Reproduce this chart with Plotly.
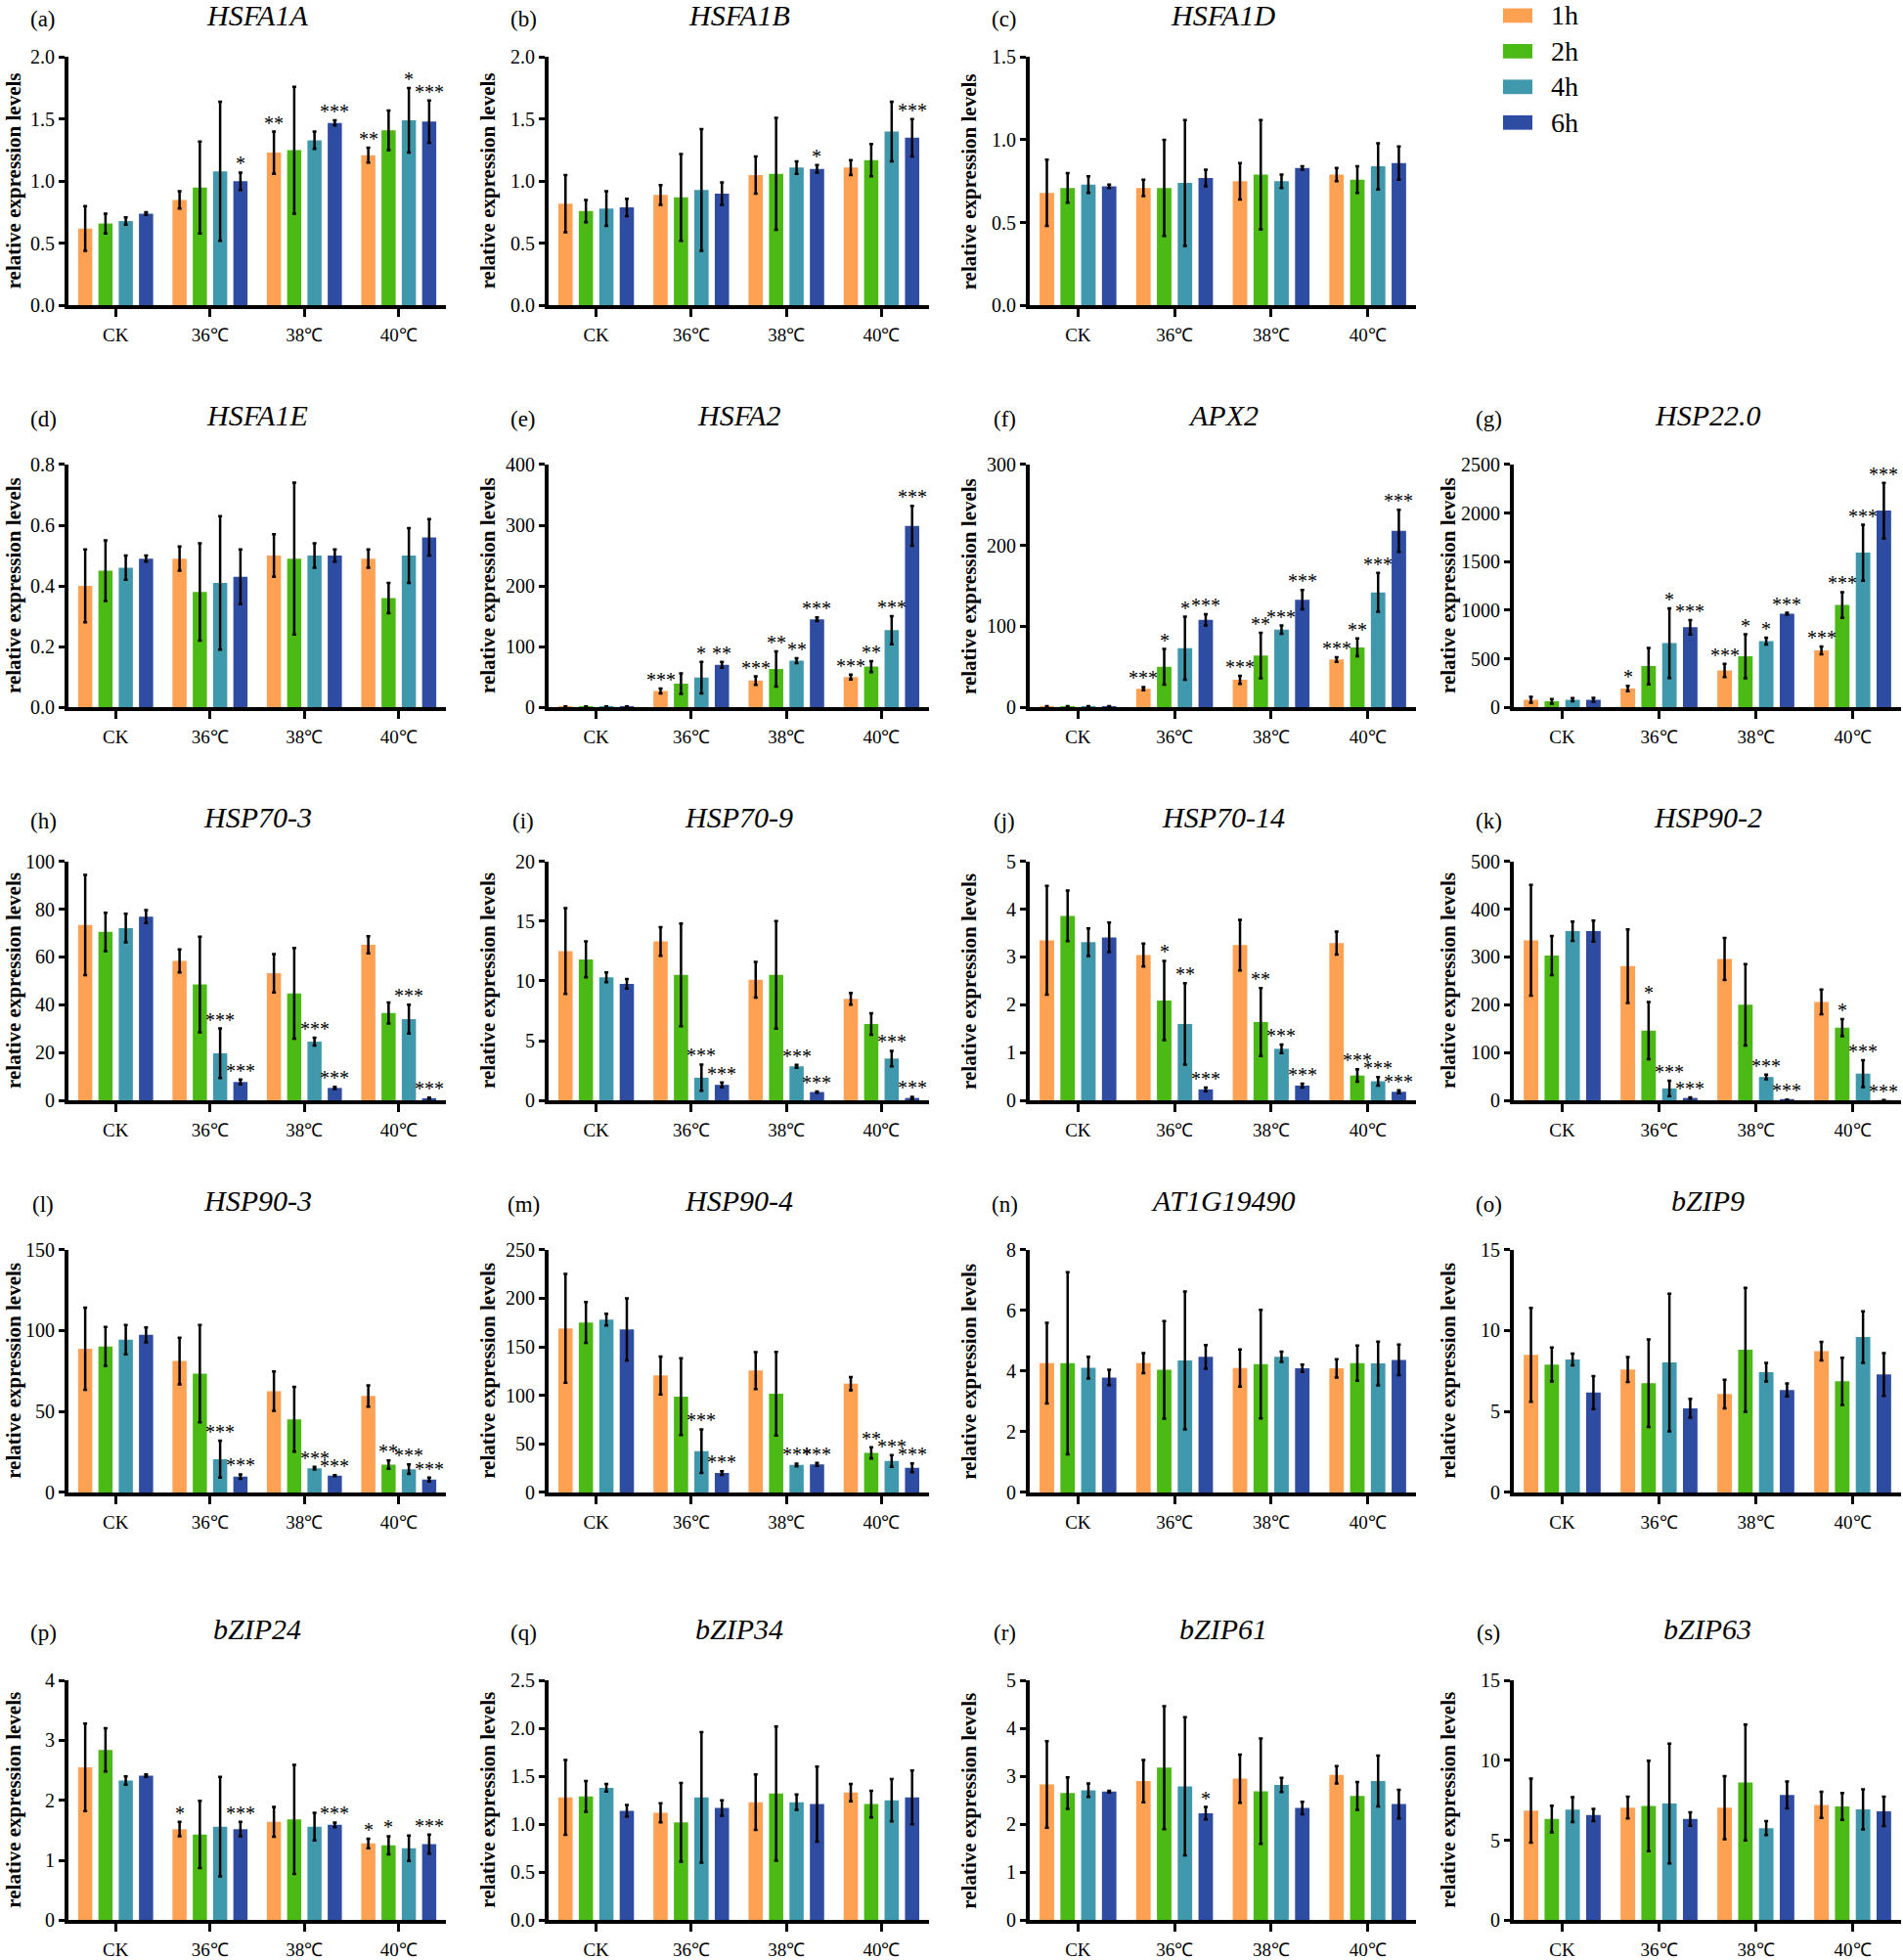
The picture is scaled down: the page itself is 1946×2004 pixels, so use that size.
import plotly.graph_objects as go

W, H = 1946, 2004

CATEGORIES = ["CK", "36℃", "38℃", "40℃"]
SERIES = ["1h", "2h", "4h", "6h"]
COLORS = ["#FFA153", "#4CBA15", "#3F98AB", "#2F4CA3"]

# rows = CK, 36℃, 38℃, 40℃ ; columns = 1h, 2h, 4h, 6h
HSFA1A_mean = [[0.62, 0.66, 0.68, 0.74], [0.85, 0.95, 1.08, 1.00], [1.23, 1.25, 1.33, 1.47], [1.21, 1.41, 1.49, 1.48]]
HSFA1A_err = [[0.18, 0.08, 0.03, 0.01], [0.07, 0.37, 0.56, 0.07], [0.17, 0.51, 0.07, 0.02], [0.06, 0.16, 0.26, 0.17]]
HSFA1A_sig = [["", "", "", ""], ["", "", "", "*"], ["**", "", "", "***"], ["**", "", "*", "***"]]

HSFA1B_mean = [[0.82, 0.76, 0.78, 0.79], [0.89, 0.87, 0.93, 0.90], [1.05, 1.06, 1.11, 1.10], [1.11, 1.17, 1.40, 1.35]]
HSFA1B_err = [[0.23, 0.09, 0.14, 0.07], [0.08, 0.35, 0.49, 0.09], [0.15, 0.45, 0.05, 0.03], [0.06, 0.13, 0.24, 0.15]]
HSFA1B_sig = [["", "", "", ""], ["", "", "", ""], ["", "", "", "*"], ["", "", "", "***"]]

HSFA1D_mean = [[0.68, 0.71, 0.73, 0.72], [0.71, 0.71, 0.74, 0.77], [0.75, 0.79, 0.75, 0.83], [0.79, 0.76, 0.84, 0.86]]
HSFA1D_err = [[0.20, 0.09, 0.05, 0.01], [0.05, 0.29, 0.38, 0.05], [0.11, 0.33, 0.04, 0.01], [0.04, 0.08, 0.14, 0.10]]
HSFA1D_sig = [["", "", "", ""], ["", "", "", ""], ["", "", "", ""], ["", "", "", ""]]

HSFA1E_mean = [[0.40, 0.45, 0.46, 0.49], [0.49, 0.38, 0.41, 0.43], [0.50, 0.49, 0.50, 0.50], [0.49, 0.36, 0.50, 0.56]]
HSFA1E_err = [[0.12, 0.10, 0.04, 0.01], [0.04, 0.16, 0.22, 0.09], [0.07, 0.25, 0.04, 0.02], [0.03, 0.05, 0.09, 0.06]]
HSFA1E_sig = [["", "", "", ""], ["", "", "", ""], ["", "", "", ""], ["", "", "", ""]]

HSFA2_mean = [[1, 1, 1, 1], [27, 39, 49, 70], [44, 63, 77, 145], [50, 67, 127, 299]]
HSFA2_err = [[0.3, 0.3, 0.3, 0.3], [4, 17, 26, 5], [7, 29, 4, 3], [4, 9, 23, 33]]
HSFA2_sig = [["", "", "", ""], ["***", "", "*", "**"], ["***", "**", "**", "***"], ["***", "**", "***", "***"]]

APX2_mean = [[1, 1, 1, 1], [23, 50, 73, 108], [34, 64, 96, 133], [59, 74, 142, 218]]
APX2_err = [[0.4, 0.4, 0.4, 0.4], [2, 22, 39, 7], [5, 28, 5, 12], [3, 11, 24, 26]]
APX2_sig = [["", "", "", ""], ["***", "*", "*", "***"], ["***", "**", "***", "***"], ["***", "**", "***", "***"]]

HSP220_mean = [[78, 61, 78, 78], [193, 424, 661, 824], [380, 525, 681, 963], [586, 1053, 1592, 2025]]
HSP220_err = [[30, 24, 17, 20], [27, 187, 359, 74], [68, 227, 35, 10], [40, 133, 288, 285]]
HSP220_sig = [["", "", "", ""], ["*", "", "*", "***"], ["***", "*", "*", "***"], ["***", "***", "***", "***"]]

HSP703_mean = [[73.4, 70.5, 72.1, 76.9], [58.4, 48.5, 19.7, 7.7], [53.2, 44.8, 24.6, 5.2], [65.1, 36.6, 34.0, 0.9]]
HSP703_err = [[21, 8, 6, 2.7], [4.8, 20, 10.4, 1.0], [8, 19, 1.6, 0.5], [3.6, 4.4, 6, 0.3]]
HSP703_sig = [["", "", "", ""], ["", "", "***", "***"], ["", "", "***", "***"], ["", "", "***", "***"]]

HSP709_mean = [[12.5, 11.8, 10.3, 9.75], [13.3, 10.5, 1.9, 1.3], [10.1, 10.5, 2.85, 0.7], [8.5, 6.4, 3.5, 0.2]]
HSP709_err = [[3.6, 1.5, 0.4, 0.4], [1.2, 4.3, 1.1, 0.2], [1.5, 4.5, 0.12, 0.05], [0.5, 0.9, 0.65, 0.1]]
HSP709_sig = [["", "", "", ""], ["", "", "***", "***"], ["", "", "***", "***"], ["", "", "***", "***"]]

HSP7014_mean = [[3.35, 3.86, 3.31, 3.41], [3.04, 2.09, 1.60, 0.23], [3.25, 1.64, 1.08, 0.31], [3.29, 0.52, 0.40, 0.18]]
HSP7014_err = [[1.14, 0.53, 0.29, 0.31], [0.24, 0.83, 0.85, 0.04], [0.53, 0.71, 0.09, 0.04], [0.24, 0.13, 0.09, 0.03]]
HSP7014_sig = [["", "", "", ""], ["", "*", "**", "***"], ["", "**", "***", "***"], ["", "***", "***", "***"]]

HSP902_mean = [[335, 303, 354, 354], [281, 146, 25, 5], [296, 200, 49, 1.3], [206, 152, 56, 0.5]]
HSP902_err = [[116, 41, 20, 22], [77, 60, 16, 1.5], [44, 85, 5, 0.5], [26, 18, 28, 0.3]]
HSP902_sig = [["", "", "", ""], ["", "*", "***", "***"], ["", "", "***", "***"], ["", "*", "***", "***"]]

HSP903_mean = [[88.8, 90.2, 94.4, 97.4], [81.2, 73.4, 20.6, 9.8], [62.6, 45.2, 15.0, 10.4], [59.6, 17.2, 14.4, 8.0]]
HSP903_err = [[25.4, 12, 9, 4.6], [14.4, 30, 11.4, 1.4], [12.2, 20, 0.8, 0.3], [6.6, 2.6, 3, 1.2]]
HSP903_sig = [["", "", "", ""], ["", "", "***", "***"], ["", "", "***", "***"], ["", "**", "***", "***"]]

HSP904_mean = [[169, 175, 178, 168], [120.5, 98.7, 42.5, 20], [125.5, 101.7, 28.4, 29], [112, 40.8, 32.5, 25.4]]
HSP904_err = [[56, 21, 6, 32], [19.5, 39.5, 22.5, 2], [19, 43, 1.4, 1.5], [6.8, 5.7, 6, 4.6]]
HSP904_sig = [["", "", "", ""], ["", "", "***", "***"], ["", "", "***", "***"], ["", "**", "***", "***"]]

AT1G19490_mean = [[4.26, 4.26, 4.11, 3.79], [4.26, 4.04, 4.35, 4.47], [4.10, 4.23, 4.47, 4.09], [4.09, 4.26, 4.25, 4.37]]
AT1G19490_err = [[1.33, 3.0, 0.36, 0.25], [0.33, 1.61, 2.27, 0.39], [0.61, 1.79, 0.17, 0.12], [0.30, 0.58, 0.72, 0.50]]
AT1G19490_sig = [["", "", "", ""], ["", "", "", ""], ["", "", "", ""], ["", "", "", ""]]

bZIP9_mean = [[8.5, 7.9, 8.22, 6.17], [7.6, 6.75, 8.03, 5.2], [6.08, 8.82, 7.43, 6.33], [8.73, 6.87, 9.6, 7.29]]
bZIP9_err = [[2.9, 1.05, 0.36, 1.02], [0.77, 2.7, 4.25, 0.58], [0.89, 3.83, 0.57, 0.4], [0.57, 1.46, 1.6, 1.32]]
bZIP9_sig = [["", "", "", ""], ["", "", "", ""], ["", "", "", ""], ["", "", "", ""]]

bZIP24_mean = [[2.55, 2.84, 2.33, 2.41], [1.52, 1.43, 1.56, 1.52], [1.64, 1.68, 1.56, 1.59], [1.28, 1.25, 1.20, 1.27]]
bZIP24_err = [[0.73, 0.36, 0.07, 0.02], [0.12, 0.56, 0.83, 0.12], [0.25, 0.91, 0.23, 0.04], [0.08, 0.15, 0.21, 0.16]]
bZIP24_sig = [["", "", "", ""], ["*", "", "", "***"], ["", "", "", "***"], ["*", "*", "", "***"]]

bZIP34_mean = [[1.28, 1.29, 1.38, 1.14], [1.12, 1.02, 1.28, 1.17], [1.23, 1.32, 1.23, 1.21], [1.33, 1.21, 1.25, 1.28]]
bZIP34_err = [[0.39, 0.16, 0.04, 0.06], [0.10, 0.41, 0.68, 0.08], [0.29, 0.70, 0.08, 0.39], [0.09, 0.14, 0.22, 0.28]]
bZIP34_sig = [["", "", "", ""], ["", "", "", ""], ["", "", "", ""], ["", "", "", ""]]

bZIP61_mean = [[2.83, 2.65, 2.71, 2.68], [2.90, 3.18, 2.79, 2.23], [2.95, 2.69, 2.82, 2.34], [3.03, 2.59, 2.90, 2.42]]
bZIP61_err = [[0.90, 0.33, 0.14, 0.02], [0.44, 1.28, 1.44, 0.13], [0.50, 1.10, 0.15, 0.13], [0.18, 0.29, 0.53, 0.30]]
bZIP61_sig = [["", "", "", ""], ["", "", "", "*"], ["", "", "", ""], ["", "", "", ""]]

bZIP63_mean = [[6.85, 6.33, 6.92, 6.58], [7.04, 7.14, 7.30, 6.33], [7.04, 8.61, 5.76, 7.83], [7.21, 7.11, 6.93, 6.81]]
bZIP63_err = [[2.0, 0.83, 0.78, 0.38], [0.68, 2.83, 3.75, 0.42], [1.97, 3.62, 0.44, 0.84], [0.82, 0.84, 1.26, 0.92]]
bZIP63_sig = [["", "", "", ""], ["", "", "", ""], ["", "", "", ""], ["", "", "", ""]]

PANEL_LETTERS = ["(a)", "(b)", "(c)", "(d)", "(e)", "(f)", "(g)", "(h)", "(i)", "(j)",
                 "(k)", "(l)", "(m)", "(n)", "(o)", "(p)", "(q)", "(r)", "(s)"]
GENE_NAMES = ["HSFA1A", "HSFA1B", "HSFA1D", "HSFA1E", "HSFA2", "APX2", "HSP22.0", "HSP70-3",
              "HSP70-9", "HSP70-14", "HSP90-2", "HSP90-3", "HSP90-4", "AT1G19490", "bZIP9",
              "bZIP24", "bZIP34", "bZIP61", "bZIP63"]
Y_MAX = [2.0, 2.0, 1.5, 0.8, 400, 300, 2500, 100, 20, 5, 500, 150, 250, 8, 15, 4, 2.5, 5, 15]
Y_DTICK = [0.5, 0.5, 0.5, 0.2, 100, 100, 500, 20, 5, 1, 100, 50, 50, 2, 5, 1, 0.5, 1, 5]
Y_FORMAT = [".1f", ".1f", ".1f", ".1f", "d", "d", "d", "d", "d", "d", "d", "d", "d", "d", "d",
            "d", ".1f", "d", "d"]

MEANS = [HSFA1A_mean, HSFA1B_mean, HSFA1D_mean, HSFA1E_mean, HSFA2_mean, APX2_mean, HSP220_mean,
         HSP703_mean, HSP709_mean, HSP7014_mean, HSP902_mean, HSP903_mean, HSP904_mean,
         AT1G19490_mean, bZIP9_mean, bZIP24_mean, bZIP34_mean, bZIP61_mean, bZIP63_mean]
ERRS = [HSFA1A_err, HSFA1B_err, HSFA1D_err, HSFA1E_err, HSFA2_err, APX2_err, HSP220_err,
        HSP703_err, HSP709_err, HSP7014_err, HSP902_err, HSP903_err, HSP904_err,
        AT1G19490_err, bZIP9_err, bZIP24_err, bZIP34_err, bZIP61_err, bZIP63_err]
SIGS = [HSFA1A_sig, HSFA1B_sig, HSFA1D_sig, HSFA1E_sig, HSFA2_sig, APX2_sig, HSP220_sig,
        HSP703_sig, HSP709_sig, HSP7014_sig, HSP902_sig, HSP903_sig, HSP904_sig,
        AT1G19490_sig, bZIP9_sig, bZIP24_sig, bZIP34_sig, bZIP61_sig, bZIP63_sig]

# ---------------- layout geometry (pixels) ----------------
ROWS_PX = [(48, 306), (471, 723), (883, 1131), (1286, 1538), (1733, 1982)]
TITLE_Y = [5, 420, 837, 1235, 1680]
COLS_PX = [(70, 456), (561, 950), (1053, 1448), (1548, 1944)]
YTITLE_OFFSET = [56, 62, 62, 67]
GRID = [(0, 0), (0, 1), (0, 2),
        (1, 0), (1, 1), (1, 2), (1, 3),
        (2, 0), (2, 1), (2, 2), (2, 3),
        (3, 0), (3, 1), (3, 2), (3, 3),
        (4, 0), (4, 1), (4, 2), (4, 3)]

BAR_STEP = 0.215
BAR_WIDTH = 0.15
SERIF = "Liberation Serif"


def px_x(v):
    return v / W


def px_y(v):
    return 1 - v / H


fig = go.Figure()
annotations = []
shapes = []
layout_axes = {}

for k in range(len(GENE_NAMES)):
    idx = k + 1
    sfx = "" if idx == 1 else str(idx)
    r, c = GRID[k]
    x0, x1 = COLS_PX[c]
    y0, y1 = ROWS_PX[r]
    mean, err, sig = MEANS[k], ERRS[k], SIGS[k]

    for j, s in enumerate(SERIES):
        xs = [i + (j - 1.5) * BAR_STEP for i in range(len(CATEGORIES))]
        fig.add_trace(go.Bar(
            x=xs,
            y=[mean[i][j] for i in range(len(CATEGORIES))],
            width=BAR_WIDTH,
            name=s,
            marker=dict(color=COLORS[j], line=dict(width=0)),
            error_y=dict(type="data", array=[err[i][j] for i in range(len(CATEGORIES))],
                         color="black", thickness=2.5, width=2),
            xaxis="x" + sfx, yaxis="y" + sfx,
            showlegend=False,
        ))
        for i in range(len(CATEGORIES)):
            if sig[i][j]:
                annotations.append(dict(
                    x=xs[i], y=mean[i][j] + err[i][j], xref="x" + sfx, yref="y" + sfx,
                    text=sig[i][j], showarrow=False, yanchor="bottom", xanchor="center",
                    font=dict(family=SERIF, size=20, color="black"), yshift=-4,
                ))

    layout_axes["xaxis" + sfx] = dict(
        domain=[px_x(x0), px_x(x1)], anchor="y" + sfx, range=[-0.5, 3.5],
        tickmode="array", tickvals=list(range(len(CATEGORIES))), ticktext=CATEGORIES,
        showline=True, linewidth=4, linecolor="black", ticks="outside", ticklen=8,
        tickwidth=3, tickcolor="black", showgrid=False, zeroline=False,
        ticklabelstandoff=2, tickfont=dict(family=SERIF, size=19, color="black"),
    )
    layout_axes["yaxis" + sfx] = dict(
        domain=[px_y(y1), px_y(y0)], anchor="x" + sfx, range=[0, Y_MAX[k]],
        tickmode="linear", tick0=0, dtick=Y_DTICK[k], tickformat=Y_FORMAT[k],
        showline=True, linewidth=4, linecolor="black", ticks="outside", ticklen=6,
        tickwidth=3, tickcolor="black", showgrid=False, zeroline=False,
        tickfont=dict(family=SERIF, size=20, color="black"),
    )

    # panel title, panel letter, y-axis title
    annotations.append(dict(
        x=px_x((x0 + x1) / 2), y=px_y(TITLE_Y[r]), xref="paper", yref="paper",
        text=GENE_NAMES[k], showarrow=False, xanchor="center", yanchor="middle",
        font=dict(family=SERIF, size=30, color="black", style="italic"),
    ))
    annotations.append(dict(
        x=px_x(x0 - 26), y=px_y(TITLE_Y[r] + 4), xref="paper", yref="paper",
        text=PANEL_LETTERS[k], showarrow=False, xanchor="center", yanchor="middle",
        font=dict(family=SERIF, size=23, color="black"),
    ))
    annotations.append(dict(
        x=px_x(x0 - YTITLE_OFFSET[c]), y=px_y((y0 + y1) / 2), xref="paper", yref="paper",
        text="relative expression levels", showarrow=False, textangle=-90,
        xanchor="center", yanchor="middle",
        font=dict(family=SERIF, size=21, color="black", weight="bold"),
    ))

# legend (drawn in the empty top-right cell)
LEG_X0, LEG_X1 = 1537, 1567
LEG_Y = [5, 42, 79, 116]
for j, s in enumerate(SERIES):
    shapes.append(dict(type="rect", xref="paper", yref="paper",
                       x0=px_x(LEG_X0), x1=px_x(LEG_X1),
                       y0=px_y(LEG_Y[j] + 7.5), y1=px_y(LEG_Y[j] - 7.5),
                       fillcolor=COLORS[j], line=dict(width=0)))
    annotations.append(dict(
        x=px_x(1584), y=px_y(LEG_Y[j]), xref="paper", yref="paper", text=s,
        showarrow=False, xanchor="left", yanchor="middle",
        font=dict(family=SERIF, size=28, color="black"),
    ))

fig.update_layout(
    width=W, height=H,
    margin=dict(l=0, r=0, t=0, b=0),
    paper_bgcolor="white", plot_bgcolor="white",
    barmode="overlay",
    showlegend=False,
    annotations=annotations,
    shapes=shapes,
    font=dict(family=SERIF, color="black"),
    **layout_axes,
)

fig.write_html(
    "out.html",
    config={"displayModeBar": False},
    post_script="document.body.style.margin='0px';document.body.style.overflow='hidden';",
)
